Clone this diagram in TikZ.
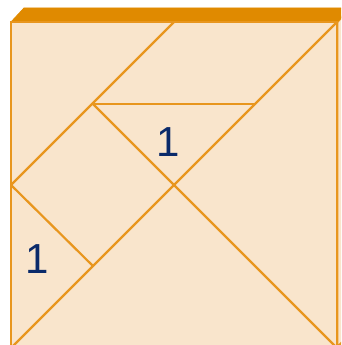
\documentclass[tikz,border=0pt]{standalone}
\usepackage{fontspec}
\setmainfont{Liberation Sans}
\definecolor{facefill}{HTML}{F9E5CC}
\definecolor{edgeor}{HTML}{E8961E}
\definecolor{topor}{HTML}{E08A00}
\definecolor{numblue}{HTML}{0A2A6A}
\tikzset{
  piece/.style={draw=edgeor, line width=2.2pt, line cap=round, line join=round},
  frame/.style={draw=edgeor, line width=2.6pt, fill=facefill},
  topface/.style={fill=topor, draw=topor, line width=0.8pt},
  numlabel/.style={text=numblue, font=\fontsize{42}{42}\selectfont, inner sep=0pt}
}
\begin{document}
\begin{tikzpicture}[x=1pt,y=-1pt]
\useasboundingbox (0,0) rectangle (341,345);
\clip (0,0) rectangle (341,345);
% corners of front face
\coordinate (A) at (11,22);
\coordinate (B) at (337,22);
\coordinate (C) at (337,348);
\coordinate (D) at (11,348);
% depth
\coordinate (At) at (24,8);
\coordinate (Bt) at (350,8);
\coordinate (Cb) at (350,334);
% side and top faces
\draw[frame] (B) -- (Bt) -- (Cb) -- (C) -- cycle;
\draw[topface] (A) -- (At) -- (Bt) -- (B) -- cycle;
% front face
\draw[frame] (A) -- (B) -- (C) -- (D) -- cycle;
% tangram points
\coordinate (p13) at (93,104);
\coordinate (p22) at (174,185);
\coordinate (p02) at (11,185);
\coordinate (p24) at (174,22);
\coordinate (p33) at (255,104);
\coordinate (p11) at (93,266);
% tangram lines
\draw[piece] (D) -- (B);
\draw[piece] (p13) -- (C);
\draw[piece] (p02) -- (p24);
\draw[piece] (p13) -- (p33);
\draw[piece] (p02) -- (p11);
% redraw frame edges on top
\draw[draw=edgeor, line width=2.6pt] (A) -- (D);
\draw[draw=edgeor, line width=2.6pt] (B) -- (C);
% labels
\node[numlabel] (n1) at (168,142) {1};
\node[numlabel] (n2) at (37.5,259) {1};
\end{tikzpicture}
\end{document}
